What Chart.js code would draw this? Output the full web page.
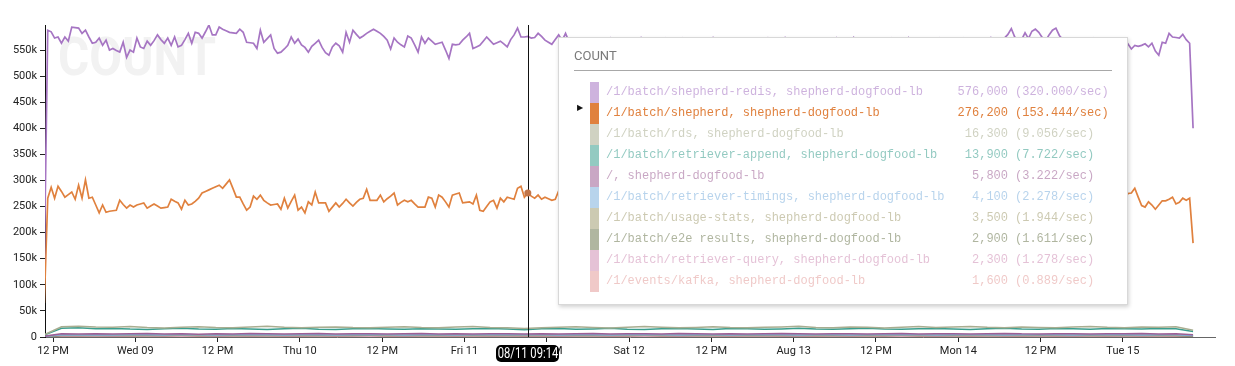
<!DOCTYPE html>
<html>
<head>
<meta charset="utf-8">
<script src="https://cdn.jsdelivr.net/npm/chart.js@4.4.1/dist/chart.umd.min.js"></script>
<style>
  html, body { margin: 0; padding: 0; background: #fff; }
  #wrap { position: relative; width: 1235px; height: 366px; overflow: hidden; }
  #chart { position: absolute; left: 0; top: 0; }
  #tip { position: absolute; left: 558px; top: 37px; width: 568px; height: 266px; background: #fff;
         border: 1px solid #d8d8d8; box-shadow: 1px 2px 4px rgba(0,0,0,0.18);
         font-family: "Liberation Mono", "DejaVu Sans Mono", monospace; font-size: 12px; }
  #tip .head { position: absolute; left: 15px; top: 10px; font: 13px Roboto, sans-serif; color: #7a7a7a; }
  #tip .rule { position: absolute; left: 15px; top: 32px; width: 538px; height: 1px; background: #a8a8a8; }
  #tip .row { position: absolute; left: 0; width: 100%; height: 21px; line-height: 21px; white-space: pre; }
  #tip .sw { position: absolute; left: 31px; top: 0; width: 9px; height: 21px; }
  #tip .lbl { position: absolute; left: 47px; }
  #tip .cnt { position: absolute; right: 119px; text-align: right; }
  #tip .rate { position: absolute; left: 456px; }
  #tip .arrow { position: absolute; left: 18px; top: 0; font: 8px "DejaVu Sans", sans-serif; color: #111; }
  #when { position: absolute; top: 345px; width: 63px; height: 17px; background: #000; border-radius: 5px; overflow: hidden; }
  #when span { position: absolute; left: 50%; top: 0; line-height: 17px; color: #fff; font: 14px Roboto, sans-serif;
               white-space: nowrap; transform: translateX(-50%) scaleX(0.8); }
</style>
</head>
<body>
<div id="wrap">
  <canvas id="chart" width="1235" height="366"></canvas>
  <div id="tip"></div>
  <div id="when"><span></span></div>
</div>
<script>
// hours counted from Aug 08 00:00
const xTickHours = [12, 24, 36, 48, 60, 72, 84, 96, 108, 120, 132, 144, 156, 168];
const xTickLabels = ['12 PM', 'Wed 09', '12 PM', 'Thu 10', '12 PM', 'Fri 11', '12 PM', 'Sat 12', '12 PM', 'Aug 13', '12 PM', 'Mon 14', '12 PM', 'Tue 15'];
const yTickValues = [0, 50, 100, 150, 200, 250, 300, 350, 400, 450, 500, 550]; // thousands

const seriesNames = [
  '/1/batch/shepherd-redis, shepherd-dogfood-lb',
  '/1/batch/shepherd, shepherd-dogfood-lb',
  '/1/batch/rds, shepherd-dogfood-lb',
  '/1/batch/retriever-append, shepherd-dogfood-lb',
  '/, shepherd-dogfood-lb',
  '/1/batch/retriever-timings, shepherd-dogfood-lb',
  '/1/batch/usage-stats, shepherd-dogfood-lb',
  '/1/batch/e2e results, shepherd-dogfood-lb',
  '/1/batch/retriever-query, shepherd-dogfood-lb',
  '/1/events/kafka, shepherd-dogfood-lb'
];
const seriesColors = ['#a675c3', '#e0813e', '#a9ad90', '#3a9e8e', '#9c5f94', '#7eb0dd', '#a39e72', '#6f7a52', '#cf8fb5', '#e39d9b'];

// values at the hovered time, from the tooltip
const hoverCounts = [576000, 276200, 16300, 13900, 5800, 4100, 3500, 2900, 2300, 1600];
const hoverLabel = '08/11 09:14';
const hoverHour = 81.233;
const hoveredSeries = 1;
const bucketSeconds = 1800;

// 30 minute buckets, thousands
const mainStart = 10.733, mainStep = 0.5;
const redis = [
  144, 588, 585, 573, 575, 563, 575, 567, 594, 593,
  592, 582, 588, 575, 563, 565, 573, 559, 569, 550,
  553, 549, 546, 565, 536, 550, 546, 573, 556, 553,
  567, 559, 568, 579, 570, 563, 573, 559, 575, 556,
  559, 570, 582, 563, 584, 582, 573, 585, 598, 579,
  579, 594, 590, 587, 584, 583, 582, 590, 584, 565,
  564, 563, 553, 588, 565, 572, 579, 553, 544, 546,
  552, 559, 575, 563, 571, 560, 555, 546, 557, 563,
  569, 555, 545, 540, 556, 563, 558, 546, 584, 565,
  588, 580, 573, 577, 582, 586, 590, 586, 582, 576,
  569, 552, 573, 565, 560, 556, 577, 573, 560, 546,
  575, 563, 573, 567, 561, 563, 565, 550, 534, 561,
  560, 561, 569, 575, 582, 553, 556, 559, 567, 575,
  568, 561, 564, 567, 562, 556, 570, 579, 592, 575,
  575, 576, 573, 574, 582, 576, 569, 565, 561, 570,
  579, 568, 582, 566, 560, 571, 556, 564, 572, 558,
  549, 563, 570, 557, 566, 573, 560, 552, 567, 571,
  559, 548, 562, 569, 574, 561, 555, 566, 570, 558,
  563, 572, 557, 550, 564, 568, 573, 562, 554, 567,
  571, 560, 546, 558, 569, 574, 563, 556, 565, 572,
  561, 553, 566, 570, 559, 548, 562, 571, 567, 555,
  564, 573, 560, 551, 563, 569, 574, 562, 557, 568,
  571, 558, 549, 565, 572, 561, 554, 567, 570, 559,
  563, 573, 556, 548, 562, 568, 574, 560, 555, 566,
  572, 561, 552, 564, 570, 558, 567, 573, 562, 550,
  563, 569, 574, 559, 554, 566, 571, 560, 547, 562,
  568, 573, 561, 556, 565, 570, 558, 563, 572, 555,
  566, 571, 560, 553, 564, 569, 574, 562, 557, 568,
  573, 580, 591, 575, 566, 570, 583, 572, 586, 590,
  584, 574, 568, 579, 588, 592, 578, 570, 565, 572,
  561, 555, 566, 570, 559, 563, 572, 557, 549, 564,
  569, 560, 554, 566, 571, 558, 562, 552, 559, 557,
  559, 562, 556, 563, 548, 540, 565, 563, 582, 575,
  574, 573, 580, 570, 563, 400
];
const shepherd = [
  65, 266, 287, 266, 289, 279, 268, 273, 278, 264,
  291, 266, 301, 266, 268, 253, 238, 253, 239, 241,
  242, 243, 262, 254, 247, 253, 249, 253, 255, 257,
  247, 251, 255, 251, 247, 248, 249, 264, 260, 257,
  245, 262, 253, 255, 260, 266, 276, 279, 282, 285,
  288, 291, 285, 293, 301, 285, 268, 268, 255, 243,
  249, 270, 264, 272, 262, 257, 253, 254, 255, 245,
  266, 247, 260, 272, 243, 249, 238, 259, 253, 278,
  257, 257, 257, 241, 249, 257, 249, 256, 264, 257,
  251, 258, 264, 266, 283, 262, 262, 262, 272, 259,
  265, 270, 276, 253, 258, 262, 259, 262, 255, 249,
  249, 249, 268, 266, 249, 272, 268, 259, 249, 272,
  274, 276, 257, 258, 259, 255, 272, 243, 241, 250,
  259, 262, 247, 266, 259, 268, 266, 264, 285, 289,
  268, 276.2, 270, 266, 272, 264, 268, 265, 262, 264,
  280, 266, 259, 270, 262, 255, 268, 273, 261, 250,
  258, 264, 271, 259, 252, 263, 268, 257, 249, 262,
  270, 266, 255, 260, 272, 264, 251, 258, 267, 262,
  254, 248, 259, 266, 273, 261, 256, 264, 270, 258,
  250, 262, 268, 275, 263, 257, 252, 261, 269, 264,
  255, 259, 266, 272, 260, 251, 258, 265, 270, 262,
  256, 248, 257, 264, 271, 266, 259, 253, 262, 268,
  274, 263, 255, 249, 260, 267, 272, 264, 258, 252,
  261, 268, 276, 265, 257, 250, 259, 266, 271, 263,
  254, 260, 267, 273, 262, 256, 249, 258, 265, 270,
  261, 255, 263, 269, 274, 266, 258, 251, 260, 267,
  262, 256, 264, 270, 259, 253, 261, 268, 273, 265,
  257, 250, 259, 266, 271, 263, 255, 262, 269, 274,
  266, 258, 252, 261, 267, 272, 264, 257, 263, 270,
  262, 254, 259, 265, 272, 267, 260, 253, 262, 268,
  263, 256, 250, 258, 265, 271, 264, 257, 262, 269,
  274, 266, 259, 264, 270, 262, 275, 276, 285, 268,
  252, 249, 259, 253, 245, 253, 261, 261, 264, 268,
  255, 258, 266, 262, 266, 180
];

// smaller series, read every 2.5 hours, thousands
const smallStart = 10.733, smallStep = 2.5;
const rds = [
  4.5, 19.5, 20.8, 19.2, 18.6, 19.9, 18.1, 17.4, 18.8, 19.6,
  18.2, 17.9, 19.1, 20.4, 18.5, 17.8, 18.9, 19.3, 18.0, 17.5,
  18.7, 19.8, 18.3, 17.6, 19.0, 20.2, 18.4, 17.9, 16.3, 17.7,
  18.9, 19.5, 18.1, 17.3, 18.6, 20.1, 18.8, 17.6, 18.4, 19.7,
  18.2, 17.5, 18.9, 19.4, 20.6, 18.3, 17.8, 19.0, 18.5, 17.4,
  18.7, 19.9, 18.1, 19.3, 20.3, 18.6, 17.9, 19.1, 18.4, 17.7,
  19.2, 20.0, 18.5, 17.8, 19.4, 18.8, 19.6, 13.0
];
const append = [
  3.8, 16.9, 17.5, 15.8, 16.4, 15.1, 14.6, 15.9, 16.8, 15.3,
  14.9, 16.1, 15.5, 14.2, 15.7, 16.6, 15.0, 14.4, 15.8, 16.3,
  15.2, 14.7, 16.0, 15.4, 14.8, 15.9, 16.5, 15.1, 13.9, 15.6,
  16.2, 14.9, 15.5, 16.7, 15.0, 14.5, 15.8, 16.4, 15.3, 14.6,
  16.1, 15.7, 14.9, 15.4, 16.6, 15.2, 14.7, 16.0, 16.8, 15.3,
  14.8, 15.9, 16.3, 15.1, 14.5, 15.6, 16.9, 15.4, 14.8, 16.2,
  15.7, 15.0, 16.5, 15.9, 15.2, 16.4, 15.8, 10.7
];
const slash = [
  1.5, 6.2, 5.9, 6.4, 5.7, 6.0, 6.6, 5.8, 6.1, 5.5,
  6.3, 5.9, 6.7, 6.0, 5.6, 6.2, 6.5, 5.8, 6.0, 6.4,
  5.7, 6.1, 6.8, 5.9, 6.2, 5.6, 6.3, 6.0, 5.8, 6.4,
  5.9, 6.1, 6.6, 5.7, 6.2, 6.0, 5.8, 6.5, 6.1, 5.9,
  6.3, 5.6, 6.0, 6.7, 6.2, 5.8, 6.1, 6.4, 5.9, 6.0,
  6.6, 5.7, 6.3, 6.1, 5.8, 6.2, 6.9, 6.0, 5.9, 6.4,
  6.1, 5.7, 6.3, 6.0, 6.5, 5.9, 6.2, 4.1
];
const timings = [
  1.0, 4.3, 4.0, 4.5, 3.9, 4.2, 4.4, 4.0, 4.6, 4.1,
  3.8, 4.3, 4.2, 4.5, 3.9, 4.1, 4.4, 4.0, 4.3, 4.6,
  4.1, 3.9, 4.2, 4.5, 4.0, 4.3, 4.1, 4.4, 4.1, 4.2,
  3.9, 4.5, 4.3, 4.0, 4.2, 4.6, 4.1, 3.9, 4.4, 4.2,
  4.0, 4.3, 4.5, 4.1, 3.8, 4.2, 4.4, 4.0, 4.3, 4.1,
  4.6, 4.2, 3.9, 4.3, 4.1, 4.5, 4.0, 4.2, 4.4, 4.1,
  3.9, 4.3, 4.2, 4.5, 4.0, 4.3, 4.1, 2.8
];
const usage = [
  0.9, 3.6, 3.4, 3.8, 3.3, 3.5, 3.7, 3.4, 3.9, 3.5,
  3.2, 3.6, 3.5, 3.8, 3.3, 3.4, 3.7, 3.5, 3.6, 3.9,
  3.4, 3.3, 3.6, 3.8, 3.5, 3.7, 3.4, 3.6, 3.5, 3.5,
  3.3, 3.8, 3.6, 3.4, 3.5, 3.9, 3.4, 3.3, 3.7, 3.6,
  3.4, 3.6, 3.8, 3.5, 3.2, 3.5, 3.7, 3.4, 3.6, 3.5,
  3.9, 3.5, 3.3, 3.6, 3.4, 3.8, 3.4, 3.5, 3.7, 3.5,
  3.3, 3.6, 3.5, 3.8, 3.4, 3.6, 3.5, 2.4
];
const e2e = [
  0.7, 3.0, 2.8, 3.1, 2.7, 2.9, 3.0, 2.8, 3.2, 2.9,
  2.7, 3.0, 2.9, 3.1, 2.8, 2.8, 3.0, 2.9, 3.0, 3.2,
  2.8, 2.7, 3.0, 3.1, 2.9, 3.0, 2.8, 3.0, 2.9, 2.9,
  2.7, 3.1, 3.0, 2.8, 2.9, 3.2, 2.8, 2.7, 3.0, 3.0,
  2.8, 3.0, 3.1, 2.9, 2.7, 2.9, 3.0, 2.8, 3.0, 2.9,
  3.2, 2.9, 2.7, 3.0, 2.8, 3.1, 2.8, 2.9, 3.0, 2.9,
  2.7, 3.0, 2.9, 3.1, 2.8, 3.0, 2.9, 2.0
];
const query = [
  0.6, 2.4, 2.2, 2.5, 2.1, 2.3, 2.4, 2.2, 2.6, 2.3,
  2.1, 2.4, 2.3, 2.5, 2.2, 2.2, 2.4, 2.3, 2.4, 2.6,
  2.2, 2.1, 2.4, 2.5, 2.3, 2.4, 2.2, 2.4, 2.3, 2.3,
  2.1, 2.5, 2.4, 2.2, 2.3, 2.6, 2.2, 2.1, 2.4, 2.4,
  2.2, 2.4, 2.5, 2.3, 2.1, 2.3, 2.4, 2.2, 2.4, 2.3,
  2.6, 2.3, 2.1, 2.4, 2.2, 2.5, 2.2, 2.3, 2.4, 2.3,
  2.1, 2.4, 2.3, 2.5, 2.2, 2.4, 2.3, 1.6
];
const kafka = [
  0.4, 1.7, 1.5, 1.8, 1.5, 1.6, 1.7, 1.5, 1.8, 1.6,
  1.4, 1.7, 1.6, 1.8, 1.5, 1.5, 1.7, 1.6, 1.7, 1.9,
  1.5, 1.4, 1.7, 1.8, 1.6, 1.7, 1.5, 1.7, 1.6, 1.6,
  1.4, 1.8, 1.7, 1.5, 1.6, 1.8, 1.5, 1.4, 1.7, 1.7,
  1.5, 1.7, 1.8, 1.6, 1.4, 1.6, 1.7, 1.5, 1.7, 1.6,
  1.8, 1.6, 1.4, 1.7, 1.5, 1.8, 1.5, 1.6, 1.7, 1.6,
  1.4, 1.7, 1.6, 1.8, 1.5, 1.7, 1.6, 1.1
];

const seriesValues = [redis, shepherd, rds, append, slash, timings, usage, e2e, query, kafka];

const toPoints = (vals, start, step) => vals.map((v, i) => ({ x: start + step * i, y: v }));

const datasets = seriesValues.map((vals, i) => ({
  label: seriesNames[i],
  data: i < 2 ? toPoints(vals, mainStart, mainStep) : toPoints(vals, smallStart, smallStep),
  borderColor: seriesColors[i],
  backgroundColor: seriesColors[i],
  borderWidth: i < 2 ? 1.7 : 1.5,
  pointRadius: 0,
  tension: 0,
  fill: false
}));

const hoverIndex = Math.round((hoverHour - mainStart) / mainStep);

const watermark = {
  id: 'watermark',
  beforeDatasetsDraw(chart) {
    const ctx = chart.ctx;
    ctx.save();
    ctx.font = 'bold 53px Roboto';
    ctx.fillStyle = '#f2f2f2';
    ctx.textBaseline = 'alphabetic';
    ctx.translate(58, 75);
    ctx.scale(0.9, 1);
    ctx.fillText('COUNT', 0, 0);
    ctx.restore();
  }
};

const crosshair = {
  id: 'crosshair',
  afterDatasetsDraw(chart) {
    const ctx = chart.ctx, area = chart.chartArea;
    const xs = chart.scales.x;
    const x = Math.round(xs.getPixelForValue(hoverHour)) + 0.5;
    ctx.save();
    ctx.strokeStyle = '#111';
    ctx.lineWidth = 1;
    ctx.beginPath();
    ctx.moveTo(x, area.top);
    ctx.lineTo(x, area.bottom);
    ctx.stroke();
    const p = chart.getDatasetMeta(hoveredSeries).data[hoverIndex];
    ctx.fillStyle = '#c2764a';
    ctx.beginPath();
    ctx.arc(p.x, p.y, 3.5, 0, Math.PI * 2);
    ctx.fill();
    ctx.restore();
  }
};

const chart = new Chart(document.getElementById('chart'), {
  type: 'line',
  data: { datasets: datasets },
  options: {
    responsive: false,
    animation: false,
    events: [],
    devicePixelRatio: 1,
    layout: { padding: { top: 25, right: 20, left: 0, bottom: 0 } },
    plugins: { legend: { display: false }, tooltip: { enabled: false } },
    scales: {
      x: {
        type: 'linear',
        min: 10.833,
        max: 181.43,
        afterBuildTicks: (axis) => { axis.ticks = xTickHours.map(v => ({ value: v })); },
        afterFit: (axis) => { axis.height = 29; axis.paddingLeft = 0; axis.paddingRight = 0; },
        ticks: {
          autoSkip: false, maxRotation: 0, padding: 3, color: '#222',
          font: { family: 'Roboto', size: 11 },
          callback: (v, i) => xTickLabels[i]
        },
        grid: { drawOnChartArea: false, tickLength: 5, color: '#222' },
        border: { color: '#666', width: 1 }
      },
      y: {
        min: 0,
        max: 598,
        afterBuildTicks: (axis) => { axis.ticks = yTickValues.map(v => ({ value: v })); },
        afterFit: (axis) => { axis.width = 45; axis.paddingTop = 0; axis.paddingBottom = 0; },
        ticks: {
          padding: 3, color: '#222',
          font: { family: 'Roboto', size: 11 },
          callback: (v) => v === 0 ? '0' : v + 'k'
        },
        grid: { drawOnChartArea: false, tickLength: 5, color: '#222' },
        border: { color: '#111', width: 1 }
      }
    }
  },
  plugins: [watermark, crosshair]
});

// hover panel built from the same names / colours
const tip = document.getElementById('tip');
let html = '<div class="head">COUNT</div><div class="rule"></div>';
seriesNames.forEach((name, i) => {
  const on = i === hoveredSeries;
  const rate = (hoverCounts[i] / bucketSeconds).toFixed(3);
  html += `<div class="row" style="top:${44 + 21 * i}px;color:${seriesColors[i]}">` +
    (on ? '<span class="arrow">&#9654;</span>' : '') +
    `<span class="sw" style="background:${seriesColors[i]};opacity:${on ? 1 : 0.55}"></span>` +
    `<span style="opacity:${on ? 1 : 0.55}">` +
    `<span class="lbl">${name}</span>` +
    `<span class="cnt">${hoverCounts[i].toLocaleString('en-US')}</span>` +
    `<span class="rate">(${rate}/sec)</span></span></div>`;
});
tip.innerHTML = html;

const when = document.getElementById('when');
when.querySelector('span').textContent = hoverLabel;
when.style.left = (chart.scales.x.getPixelForValue(hoverHour) - 31.5) + 'px';
</script>
</body>
</html>
